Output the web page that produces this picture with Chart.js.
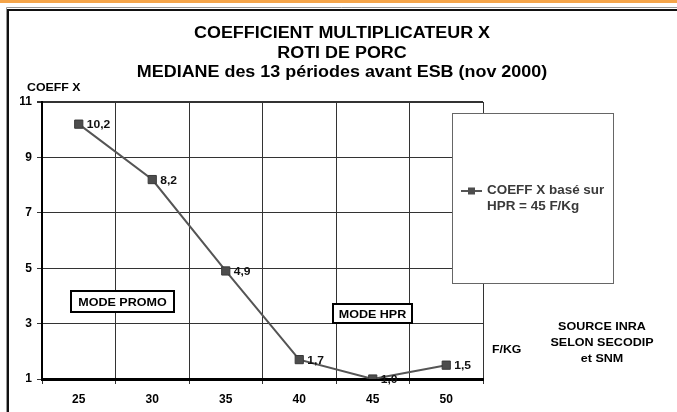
<!DOCTYPE html>
<html>
<head>
<meta charset="utf-8">
<script src="https://cdn.jsdelivr.net/npm/chart.js@4/dist/chart.umd.min.js"></script>
<style>
  html, body { margin: 0; padding: 0; background: #fff; }
  #wrap { width: 677px; height: 412px; position: relative; }
</style>
</head>
<body>
<div id="wrap"><canvas id="graph"></canvas></div>
<script>
const categories = ['25', '30', '35', '40', '45', '50'];
const coeffValues = [10.2, 8.2, 4.9, 1.7, 1.0, 1.5];
const yTicks = [1, 3, 5, 7, 9, 11];
const titleLines = ['COEFFICIENT MULTIPLICATEUR X', 'ROTI DE PORC', 'MEDIANE des 13 périodes avant ESB (nov 2000)'];
const seriesName = ['COEFF X basé sur', 'HPR = 45 F/Kg'];
const sourceLines = ['SOURCE INRA', 'SELON SECODIP', 'et SNM'];
const FONT = "'Liberation Sans', Arial, sans-serif";

function fmt(v) {
    return v.toFixed(1).replace('.', ',');
}

// the original lettering is a bit wider than Arial, so stretch it a little
function wideText(ctx, text, x, y, sx) {
    ctx.save();
    ctx.translate(x, y);
    ctx.scale(sx, 1);
    ctx.fillText(text, 0, 0);
    ctx.restore();
}

// frame, titles, legend box, notes and point labels
const decor = {
    id: 'decor',
    beforeDraw(chart) {
        const ctx = chart.ctx;
        ctx.save();
        ctx.fillStyle = '#f5a54a';
        ctx.fillRect(0, 0, 677, 3);
        ctx.strokeStyle = '#999';
        ctx.lineWidth = 1;
        ctx.beginPath();
        ctx.moveTo(6.5, 412);
        ctx.lineTo(6.5, 7.5);
        ctx.lineTo(677, 7.5);
        ctx.stroke();
        ctx.strokeStyle = '#111';
        ctx.lineWidth = 2;
        ctx.beginPath();
        ctx.moveTo(8, 412);
        ctx.lineTo(8, 10);
        ctx.lineTo(677, 10);
        ctx.stroke();

        ctx.fillStyle = '#000';
        ctx.textAlign = 'center';
        ctx.textBaseline = 'middle';
        ctx.font = 'bold 16px ' + FONT;
        titleLines.forEach((t, i) => wideText(ctx, t, 342, 34 + i * 19.5, 1.12));

        ctx.font = 'bold 11px ' + FONT;
        ctx.textAlign = 'left';
        wideText(ctx, 'COEFF X', 27, 88, 1.12);
        wideText(ctx, 'F/KG', 492, 350, 1.12);
        ctx.textAlign = 'center';
        sourceLines.forEach((t, i) => wideText(ctx, t, 602, 327 + i * 16, 1.14));
        ctx.restore();
    },
    afterDraw(chart) {
        const ctx = chart.ctx;
        const meta = chart.getDatasetMeta(0);
        ctx.save();

        ctx.font = 'bold 11px ' + FONT;
        ctx.fillStyle = '#111';
        ctx.textAlign = 'left';
        ctx.textBaseline = 'middle';
        meta.data.forEach((pt, i) => {
            wideText(ctx, fmt(coeffValues[i]), pt.x + 8, pt.y + 1, 1.1);
        });

        // mode boxes
        const boxes = [
            { text: 'MODE PROMO', x: 71, y: 291, w: 103, h: 21 },
            { text: 'MODE HPR', x: 333, y: 304, w: 79, h: 19 }
        ];
        boxes.forEach(b => {
            ctx.fillStyle = '#fff';
            ctx.fillRect(b.x, b.y, b.w, b.h);
            ctx.strokeStyle = '#000';
            ctx.lineWidth = 2;
            ctx.strokeRect(b.x, b.y, b.w, b.h);
            ctx.fillStyle = '#000';
            ctx.textAlign = 'center';
            wideText(ctx, b.text, b.x + b.w / 2, b.y + b.h / 2 + 1, 1.14);
        });

        // legend
        ctx.fillStyle = '#fff';
        ctx.fillRect(452, 113, 161, 170);
        ctx.strokeStyle = '#666';
        ctx.lineWidth = 1;
        ctx.strokeRect(452.5, 113.5, 161, 170);
        ctx.strokeStyle = '#555';
        ctx.lineWidth = 2;
        ctx.beginPath();
        ctx.moveTo(461, 191);
        ctx.lineTo(482, 191);
        ctx.stroke();
        ctx.fillStyle = '#4d4d4d';
        ctx.fillRect(468, 187.5, 7, 7);
        ctx.fillStyle = '#3a3a3a';
        ctx.font = 'bold 12px ' + FONT;
        ctx.textAlign = 'left';
        seriesName.forEach((t, i) => wideText(ctx, t, 487, 191 + i * 16, 1.12));
        ctx.restore();
    }
};

new Chart(document.getElementById('graph'), {
    type: 'line',
    data: {
        labels: categories,
        datasets: [{
            label: seriesName.join(' '),
            data: coeffValues,
            borderColor: '#555',
            borderWidth: 2,
            pointStyle: 'rect',
            pointRadius: 5.8,
            pointBackgroundColor: '#4d4d4d',
            pointBorderColor: '#3a3a3a',
            pointBorderWidth: 1,
            tension: 0
        }]
    },
    options: {
        responsive: true,
        maintainAspectRatio: false,
        animation: false,
        layout: { padding: { left: 0, top: 102, right: 194, bottom: 0 } },
        plugins: {
            legend: { display: false },
            title: { display: false },
            tooltip: { enabled: false }
        },
        scales: {
            x: {
                offset: true,
                grid: { offset: true, color: '#333', lineWidth: 1, tickLength: 5, drawOnChartArea: true },
                border: { color: '#000', width: 3 },
                ticks: { color: '#000', font: { family: FONT, size: 12, weight: 'bold' }, padding: 8 },
                afterFit: s => { s.height = 33; }
            },
            y: {
                min: 1,
                max: 11,
                afterBuildTicks: s => { s.ticks = yTicks.map(v => ({ value: v })); },
                grid: {
                    color: '#333',
                    lineWidth: c => (c.tick && c.tick.value === 11 ? 2 : 1),
                    tickLength: 5
                },
                border: { color: '#000', width: 2 },
                ticks: { color: '#000', font: { family: FONT, size: 12, weight: 'bold' }, padding: 5 },
                afterFit: s => { s.width = 42; }
            }
        }
    },
    plugins: [decor]
});
</script>
</body>
</html>
